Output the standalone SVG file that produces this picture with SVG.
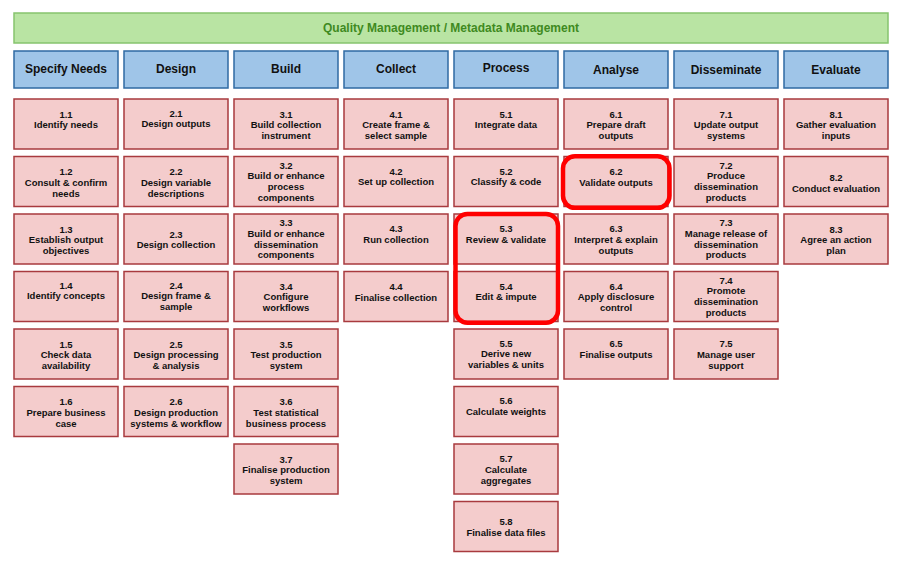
<svg xmlns="http://www.w3.org/2000/svg" width="902" height="565" viewBox="0 0 902 565">
<style>
.bg{fill:#ffffff}
.qm{fill:#b9e4a3;stroke:#86c46e;stroke-width:1.5}
.qmt{font-family:"Liberation Sans",Arial,sans-serif;font-weight:bold;font-size:12px;fill:#3f8a21;text-anchor:middle}
.ph{fill:#9fc5e8;stroke:#2f6aa3;stroke-width:1.5}
.pht{font-family:"Liberation Sans",Arial,sans-serif;font-weight:bold;font-size:12px;fill:#111111;text-anchor:middle}
.sp{fill:#f4cccc;stroke:#a83a3e;stroke-width:1.5}
.spt{font-family:"Liberation Sans",Arial,sans-serif;font-weight:bold;font-size:9.5px;fill:#111111;text-anchor:middle}
.hl{fill:none;stroke:#ff0000;stroke-width:4.5}
</style>
<rect class="bg" x="0" y="0" width="902" height="565"/>
<g id="quality-management">
<rect class="qm" x="14" y="13" width="874" height="30"/>
<text class="qmt" x="451" y="32">Quality Management / Metadata Management</text>
</g>
<g id="phases">
<g id="phase-1"><rect class="ph" x="14" y="51" width="104" height="37"/><text class="pht" x="66" y="73">Specify Needs</text></g>
<g id="phase-2"><rect class="ph" x="124" y="51" width="104" height="37"/><text class="pht" x="176" y="73">Design</text></g>
<g id="phase-3"><rect class="ph" x="234" y="51" width="104" height="37"/><text class="pht" x="286" y="73">Build</text></g>
<g id="phase-4"><rect class="ph" x="344" y="51" width="104" height="37"/><text class="pht" x="396" y="72.5">Collect</text></g>
<g id="phase-5"><rect class="ph" x="454" y="51" width="104" height="37"/><text class="pht" x="506" y="72">Process</text></g>
<g id="phase-6"><rect class="ph" x="564" y="51" width="104" height="37"/><text class="pht" x="616" y="73.5">Analyse</text></g>
<g id="phase-7"><rect class="ph" x="674" y="51" width="104" height="37"/><text class="pht" x="726" y="73.5">Disseminate</text></g>
<g id="phase-8"><rect class="ph" x="784" y="51" width="104" height="37"/><text class="pht" x="836" y="73.5">Evaluate</text></g>
</g>
<g id="subprocesses">
<!-- column 1 -->
<g id="n1-1"><rect class="sp" x="14" y="99" width="104" height="50"/><text class="spt" x="66" y="117.5"><tspan x="66">1.1</tspan><tspan x="66" dy="10.8">Identify needs</tspan></text></g>
<g id="n1-2"><rect class="sp" x="14" y="156.5" width="104" height="50"/><text class="spt" x="66" y="175"><tspan x="66">1.2</tspan><tspan x="66" dy="10.8">Consult &amp; confirm</tspan><tspan x="66" dy="10.8">needs</tspan></text></g>
<g id="n1-3"><rect class="sp" x="14" y="214" width="104" height="50"/><text class="spt" x="66" y="232.5"><tspan x="66">1.3</tspan><tspan x="66" dy="10.8">Establish output</tspan><tspan x="66" dy="10.8">objectives</tspan></text></g>
<g id="n1-4"><rect class="sp" x="14" y="271.5" width="104" height="50"/><text class="spt" x="66" y="288.5"><tspan x="66">1.4</tspan><tspan x="66" dy="10.8">Identify concepts</tspan></text></g>
<g id="n1-5"><rect class="sp" x="14" y="329" width="104" height="50"/><text class="spt" x="66" y="347.5"><tspan x="66">1.5</tspan><tspan x="66" dy="10.8">Check data</tspan><tspan x="66" dy="10.8">availability</tspan></text></g>
<g id="n1-6"><rect class="sp" x="14" y="386.5" width="104" height="50"/><text class="spt" x="66" y="405"><tspan x="66">1.6</tspan><tspan x="66" dy="10.8">Prepare business</tspan><tspan x="66" dy="10.8">case</tspan></text></g>
<!-- column 2 -->
<g id="n2-1"><rect class="sp" x="124" y="99" width="104" height="50"/><text class="spt" x="176" y="116.5"><tspan x="176">2.1</tspan><tspan x="176" dy="10.8">Design outputs</tspan></text></g>
<g id="n2-2"><rect class="sp" x="124" y="156.5" width="104" height="50"/><text class="spt" x="176" y="175"><tspan x="176">2.2</tspan><tspan x="176" dy="10.8">Design variable</tspan><tspan x="176" dy="10.8">descriptions</tspan></text></g>
<g id="n2-3"><rect class="sp" x="124" y="214" width="104" height="50"/><text class="spt" x="176" y="237.5"><tspan x="176">2.3</tspan><tspan x="176" dy="10.8">Design collection</tspan></text></g>
<g id="n2-4"><rect class="sp" x="124" y="271.5" width="104" height="50"/><text class="spt" x="176" y="288.5"><tspan x="176">2.4</tspan><tspan x="176" dy="10.8">Design frame &amp;</tspan><tspan x="176" dy="10.8">sample</tspan></text></g>
<g id="n2-5"><rect class="sp" x="124" y="329" width="104" height="50"/><text class="spt" x="176" y="347.5"><tspan x="176">2.5</tspan><tspan x="176" dy="10.8">Design processing</tspan><tspan x="176" dy="10.8">&amp; analysis</tspan></text></g>
<g id="n2-6"><rect class="sp" x="124" y="386.5" width="104" height="50"/><text class="spt" x="176" y="405"><tspan x="176">2.6</tspan><tspan x="176" dy="10.8">Design production</tspan><tspan x="176" dy="10.8">systems &amp; workflow</tspan></text></g>
<!-- column 3 -->
<g id="n3-1"><rect class="sp" x="234" y="99" width="104" height="50"/><text class="spt" x="286" y="117.5"><tspan x="286">3.1</tspan><tspan x="286" dy="10.8">Build collection</tspan><tspan x="286" dy="10.8">instrument</tspan></text></g>
<g id="n3-2"><rect class="sp" x="234" y="156.5" width="104" height="50"/><text class="spt" x="286" y="168.5"><tspan x="286">3.2</tspan><tspan x="286" dy="10.8">Build or enhance</tspan><tspan x="286" dy="10.8">process</tspan><tspan x="286" dy="10.8">components</tspan></text></g>
<g id="n3-3"><rect class="sp" x="234" y="214" width="104" height="50"/><text class="spt" x="286" y="226"><tspan x="286">3.3</tspan><tspan x="286" dy="10.8">Build or enhance</tspan><tspan x="286" dy="10.8">dissemination</tspan><tspan x="286" dy="10.8">components</tspan></text></g>
<g id="n3-4"><rect class="sp" x="234" y="271.5" width="104" height="50"/><text class="spt" x="286" y="289.5"><tspan x="286">3.4</tspan><tspan x="286" dy="10.8">Configure</tspan><tspan x="286" dy="10.8">workflows</tspan></text></g>
<g id="n3-5"><rect class="sp" x="234" y="329" width="104" height="50"/><text class="spt" x="286" y="347.5"><tspan x="286">3.5</tspan><tspan x="286" dy="10.8">Test production</tspan><tspan x="286" dy="10.8">system</tspan></text></g>
<g id="n3-6"><rect class="sp" x="234" y="386.5" width="104" height="50"/><text class="spt" x="286" y="405"><tspan x="286">3.6</tspan><tspan x="286" dy="10.8">Test statistical</tspan><tspan x="286" dy="10.8">business process</tspan></text></g>
<g id="n3-7"><rect class="sp" x="234" y="444" width="104" height="50"/><text class="spt" x="286" y="462.5"><tspan x="286">3.7</tspan><tspan x="286" dy="10.8">Finalise production</tspan><tspan x="286" dy="10.8">system</tspan></text></g>
<!-- column 4 -->
<g id="n4-1"><rect class="sp" x="344" y="99" width="104" height="50"/><text class="spt" x="396" y="117.5"><tspan x="396">4.1</tspan><tspan x="396" dy="10.8">Create frame &amp;</tspan><tspan x="396" dy="10.8">select sample</tspan></text></g>
<g id="n4-2"><rect class="sp" x="344" y="156.5" width="104" height="50"/><text class="spt" x="396" y="174.5"><tspan x="396">4.2</tspan><tspan x="396" dy="10.8">Set up collection</tspan></text></g>
<g id="n4-3"><rect class="sp" x="344" y="214" width="104" height="50"/><text class="spt" x="396" y="232"><tspan x="396">4.3</tspan><tspan x="396" dy="10.8">Run collection</tspan></text></g>
<g id="n4-4"><rect class="sp" x="344" y="271.5" width="104" height="50"/><text class="spt" x="396" y="290"><tspan x="396">4.4</tspan><tspan x="396" dy="10.8">Finalise collection</tspan></text></g>
<!-- column 5 -->
<g id="n5-1"><rect class="sp" x="454" y="99" width="104" height="50"/><text class="spt" x="506" y="117.5"><tspan x="506">5.1</tspan><tspan x="506" dy="10.8">Integrate data</tspan></text></g>
<g id="n5-2"><rect class="sp" x="454" y="156.5" width="104" height="50"/><text class="spt" x="506" y="174.5"><tspan x="506">5.2</tspan><tspan x="506" dy="10.8">Classify &amp; code</tspan></text></g>
<g id="n5-3"><rect class="sp" x="454" y="214" width="104" height="50"/><text class="spt" x="506" y="232"><tspan x="506">5.3</tspan><tspan x="506" dy="10.8">Review &amp; validate</tspan></text></g>
<g id="n5-4"><rect class="sp" x="454" y="271.5" width="104" height="50"/><text class="spt" x="506" y="289.5"><tspan x="506">5.4</tspan><tspan x="506" dy="10.8">Edit &amp; impute</tspan></text></g>
<g id="n5-5"><rect class="sp" x="454" y="329" width="104" height="50"/><text class="spt" x="506" y="346.5"><tspan x="506">5.5</tspan><tspan x="506" dy="10.8">Derive new</tspan><tspan x="506" dy="10.8">variables &amp; units</tspan></text></g>
<g id="n5-6"><rect class="sp" x="454" y="386.5" width="104" height="50"/><text class="spt" x="506" y="404"><tspan x="506">5.6</tspan><tspan x="506" dy="10.8">Calculate weights</tspan></text></g>
<g id="n5-7"><rect class="sp" x="454" y="444" width="104" height="50"/><text class="spt" x="506" y="462"><tspan x="506">5.7</tspan><tspan x="506" dy="10.8">Calculate</tspan><tspan x="506" dy="10.8">aggregates</tspan></text></g>
<g id="n5-8"><rect class="sp" x="454" y="501.5" width="104" height="50"/><text class="spt" x="506" y="525"><tspan x="506">5.8</tspan><tspan x="506" dy="10.8">Finalise data files</tspan></text></g>
<!-- column 6 -->
<g id="n6-1"><rect class="sp" x="564" y="99" width="104" height="50"/><text class="spt" x="616" y="117.5"><tspan x="616">6.1</tspan><tspan x="616" dy="10.8">Prepare draft</tspan><tspan x="616" dy="10.8">outputs</tspan></text></g>
<g id="n6-2"><rect class="sp" x="564" y="156.5" width="104" height="50"/><text class="spt" x="616" y="175"><tspan x="616">6.2</tspan><tspan x="616" dy="10.8">Validate outputs</tspan></text></g>
<g id="n6-3"><rect class="sp" x="564" y="214" width="104" height="50"/><text class="spt" x="616" y="232"><tspan x="616">6.3</tspan><tspan x="616" dy="10.8">Interpret &amp; explain</tspan><tspan x="616" dy="10.8">outputs</tspan></text></g>
<g id="n6-4"><rect class="sp" x="564" y="271.5" width="104" height="50"/><text class="spt" x="616" y="289.5"><tspan x="616">6.4</tspan><tspan x="616" dy="10.8">Apply disclosure</tspan><tspan x="616" dy="10.8">control</tspan></text></g>
<g id="n6-5"><rect class="sp" x="564" y="329" width="104" height="50"/><text class="spt" x="616" y="347"><tspan x="616">6.5</tspan><tspan x="616" dy="10.8">Finalise outputs</tspan></text></g>
<!-- column 7 -->
<g id="n7-1"><rect class="sp" x="674" y="99" width="104" height="50"/><text class="spt" x="726" y="117.5"><tspan x="726">7.1</tspan><tspan x="726" dy="10.8">Update output</tspan><tspan x="726" dy="10.8">systems</tspan></text></g>
<g id="n7-2"><rect class="sp" x="674" y="156.5" width="104" height="50"/><text class="spt" x="726" y="168.5"><tspan x="726">7.2</tspan><tspan x="726" dy="10.8">Produce</tspan><tspan x="726" dy="10.8">dissemination</tspan><tspan x="726" dy="10.8">products</tspan></text></g>
<g id="n7-3"><rect class="sp" x="674" y="214" width="104" height="50"/><text class="spt" x="726" y="226"><tspan x="726">7.3</tspan><tspan x="726" dy="10.8">Manage release of</tspan><tspan x="726" dy="10.8">dissemination</tspan><tspan x="726" dy="10.8">products</tspan></text></g>
<g id="n7-4"><rect class="sp" x="674" y="271.5" width="104" height="50"/><text class="spt" x="726" y="283.5"><tspan x="726">7.4</tspan><tspan x="726" dy="10.8">Promote</tspan><tspan x="726" dy="10.8">dissemination</tspan><tspan x="726" dy="10.8">products</tspan></text></g>
<g id="n7-5"><rect class="sp" x="674" y="329" width="104" height="50"/><text class="spt" x="726" y="347"><tspan x="726">7.5</tspan><tspan x="726" dy="10.8">Manage user</tspan><tspan x="726" dy="10.8">support</tspan></text></g>
<!-- column 8 -->
<g id="n8-1"><rect class="sp" x="784" y="99" width="104" height="50"/><text class="spt" x="836" y="117.5"><tspan x="836">8.1</tspan><tspan x="836" dy="10.8">Gather evaluation</tspan><tspan x="836" dy="10.8">inputs</tspan></text></g>
<g id="n8-2"><rect class="sp" x="784" y="156.5" width="104" height="50"/><text class="spt" x="836" y="181"><tspan x="836">8.2</tspan><tspan x="836" dy="10.8">Conduct evaluation</tspan></text></g>
<g id="n8-3"><rect class="sp" x="784" y="214" width="104" height="50"/><text class="spt" x="836" y="232.5"><tspan x="836">8.3</tspan><tspan x="836" dy="10.8">Agree an action</tspan><tspan x="836" dy="10.8">plan</tspan></text></g>
</g>
<g id="highlights">
<rect class="hl" x="563" y="156.3" width="106.5" height="51.5" rx="12" ry="12"/>
<rect class="hl" x="455.5" y="214" width="102.5" height="108.7" rx="12" ry="12"/>
</g>
</svg>
